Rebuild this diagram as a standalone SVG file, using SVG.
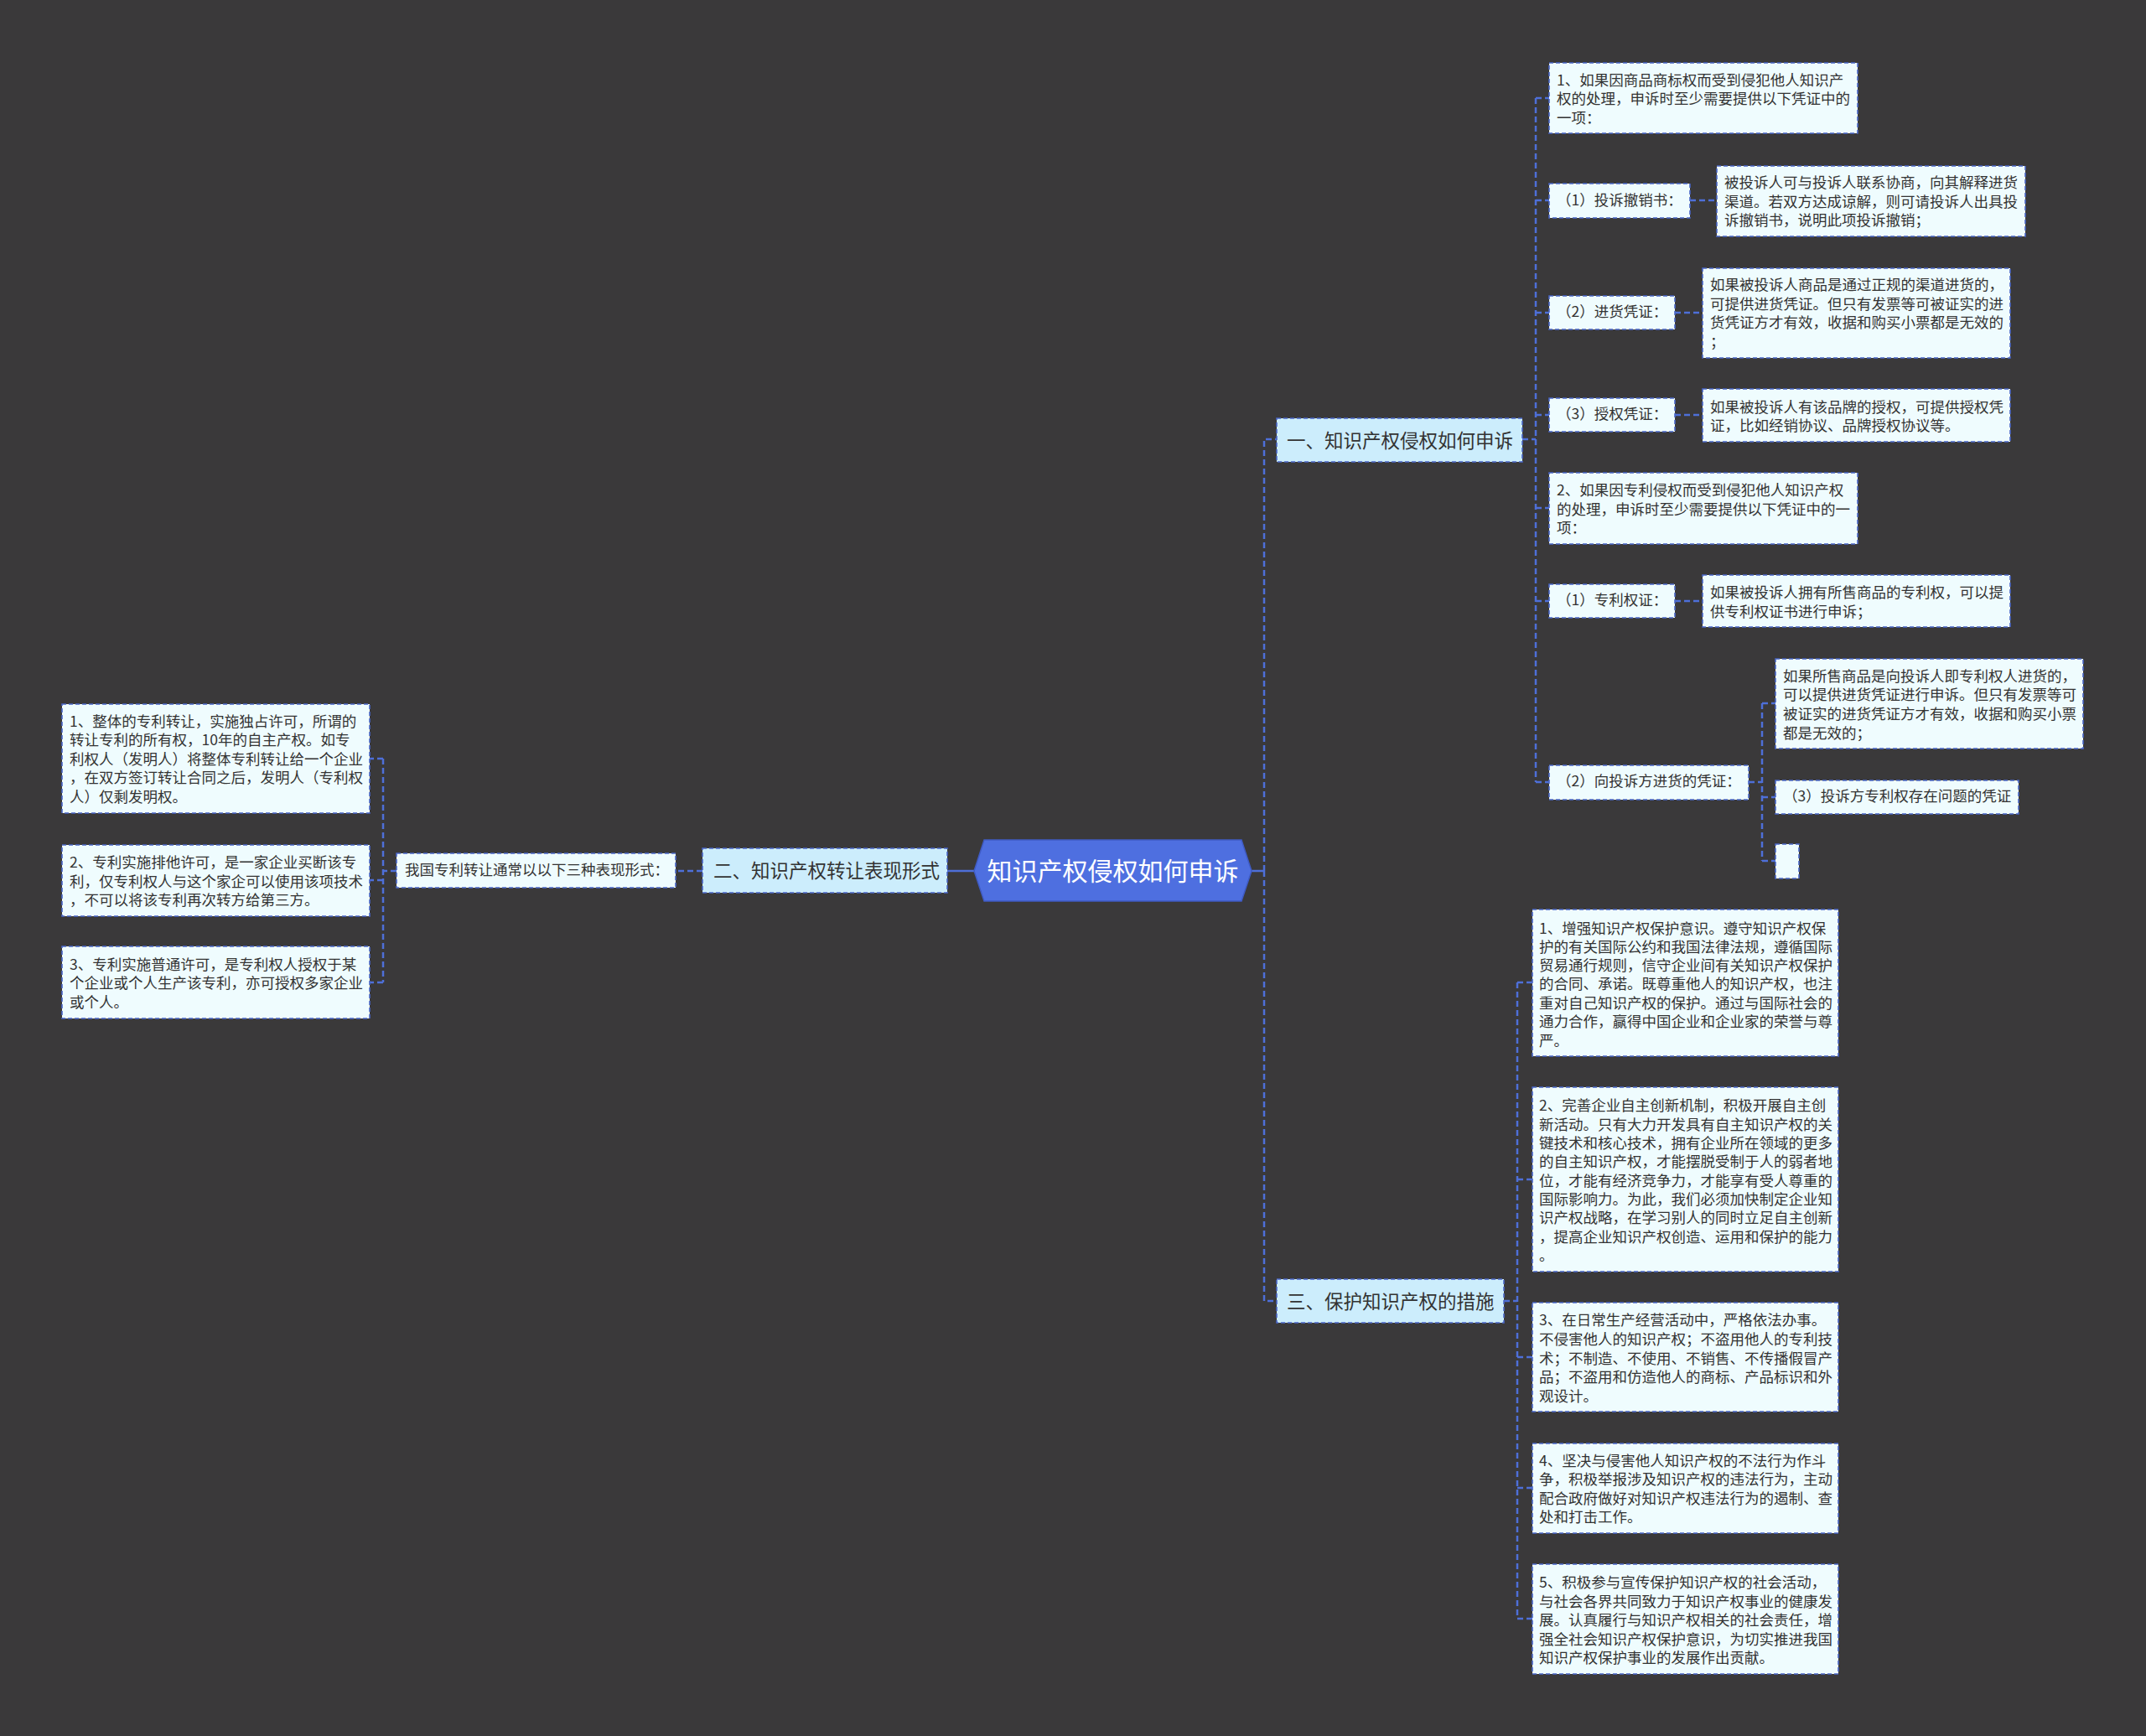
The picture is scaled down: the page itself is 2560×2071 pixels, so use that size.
<svg xmlns="http://www.w3.org/2000/svg" width="2560" height="2071" viewBox="0 0 2560 2071">
<style>
.bg{fill:#3a393a}
.leaf{fill:#effcfe;stroke:#4a66c6;stroke-width:1.6;stroke-dasharray:5 3}
.ttl{fill:#ccedfc;stroke:#4a66c6;stroke-width:1.6;stroke-dasharray:5 3}
.t{font-family:"Noto Sans CJK SC","Noto Sans",sans-serif;font-size:17.5px;fill:#333333;dominant-baseline:central;transform:translate(0px,-2.5px)}
.tt{font-family:"Noto Sans CJK SC","Noto Sans",sans-serif;font-size:22.5px;fill:#333333;dominant-baseline:central;transform:translate(0px,-1.5px)}
.ct{font-family:"Noto Sans CJK SC","Noto Sans",sans-serif;font-size:30px;fill:#ffffff;dominant-baseline:central;text-anchor:middle;transform:translate(0px,-1.5px)}
.c{fill:none;stroke:#4e6fd8;stroke-width:2.5;stroke-dasharray:7 4}
.cs{fill:none;stroke:#4e6fd8;stroke-width:2.5}
</style>
<rect class="bg" x="0" y="0" width="2560" height="2071"/>

<g id="connectors">
  <path class="cs" d="M1493 1039 H1508"/>
  <path class="c" d="M1508 1039 V524 H1523"/>
  <path class="c" d="M1508 1039 V1552 H1523"/>
  <path class="cs" d="M1162 1039 H1130"/>
  <path class="c" d="M838 1039 H806"/>
  <path class="c" d="M473 1039 H457"/>
  <path class="c" d="M457 905 V1172"/>
  <path class="c" d="M457 905 H441"/>
  <path class="c" d="M457 1050 H441"/>
  <path class="c" d="M457 1172 H441"/>
  <path class="c" d="M1816 524 H1832"/>
  <path class="c" d="M1832 117 V933"/>
  <path class="c" d="M1832 117 H1848"/>
  <path class="c" d="M1832 239 H1848"/>
  <path class="c" d="M1832 373 H1848"/>
  <path class="c" d="M1832 495 H1848"/>
  <path class="c" d="M1832 606 H1848"/>
  <path class="c" d="M1832 717 H1848"/>
  <path class="c" d="M1832 933 H1848"/>
  <path class="c" d="M2016 239 H2048"/>
  <path class="c" d="M1998 373 H2031"/>
  <path class="c" d="M1998 495 H2031"/>
  <path class="c" d="M1998 717 H2031"/>
  <path class="c" d="M2086 933 H2102"/>
  <path class="c" d="M2102 839 V1027"/>
  <path class="c" d="M2102 839 H2118"/>
  <path class="c" d="M2102 951 H2118"/>
  <path class="c" d="M2102 1027 H2118"/>
  <path class="c" d="M1794 1552 H1810"/>
  <path class="c" d="M1810 1172 V1931"/>
  <path class="c" d="M1810 1172 H1828"/>
  <path class="c" d="M1810 1407 H1828"/>
  <path class="c" d="M1810 1619 H1828"/>
  <path class="c" d="M1810 1775 H1828"/>
  <path class="c" d="M1810 1931 H1828"/>
</g>

<g id="root">
  <polygon points="1162,1039 1174,1002 1481,1002 1493,1039 1481,1075 1174,1075" fill="#4e6fe0" stroke="#3f5bc4" stroke-width="1.5"/>
  <text class="ct" x="1327.5" y="1038">知识产权侵权如何申诉</text>
</g>

<g id="b1">
  <rect class="ttl" x="1523" y="499" width="293" height="52"/>
  <text class="tt" x="1535" y="525">一、知识产权侵权如何申诉</text>
</g>
<g id="b2">
  <rect class="ttl" x="838" y="1012" width="292" height="53"/>
  <text class="tt" x="851" y="1038.5">二、知识产权转让表现形式</text>
</g>
<g id="b3">
  <rect class="ttl" x="1523" y="1526" width="271" height="52"/>
  <text class="tt" x="1535" y="1552">三、保护知识产权的措施</text>
</g>

<!-- Branch 1 -->
<g id="n1a">
  <rect class="leaf" x="1848" y="75" width="368" height="84"/>
  <text class="t"><tspan x="1857" y="96">1、如果因商品商标权而受到侵犯他人知识产</tspan><tspan x="1857" y="118">权的处理，申诉时至少需要提供以下凭证中的</tspan><tspan x="1857" y="141">一项：</tspan></text>
</g>
<g id="n1b">
  <rect class="leaf" x="1848" y="219" width="168" height="41"/>
  <text class="t" x="1857" y="239.5">（1）投诉撤销书：</text>
</g>
<g id="n1c">
  <rect class="leaf" x="2048" y="198" width="368" height="84"/>
  <text class="t"><tspan x="2057" y="218">被投诉人可与投诉人联系协商，向其解释进货</tspan><tspan x="2057" y="241">渠道。若双方达成谅解，则可请投诉人出具投</tspan><tspan x="2057" y="263">诉撤销书，说明此项投诉撤销；</tspan></text>
</g>
<g id="n1d">
  <rect class="leaf" x="1848" y="353" width="150" height="40"/>
  <text class="t" x="1857" y="373">（2）进货凭证：</text>
</g>
<g id="n1e">
  <rect class="leaf" x="2031" y="320" width="367" height="107"/>
  <text class="t"><tspan x="2040" y="340">如果被投诉人商品是通过正规的渠道进货的，</tspan><tspan x="2040" y="363">可提供进货凭证。但只有发票等可被证实的进</tspan><tspan x="2040" y="385">货凭证方才有效，收据和购买小票都是无效的</tspan><tspan x="2040" y="408">；</tspan></text>
</g>
<g id="n1f">
  <rect class="leaf" x="1848" y="475" width="150" height="40"/>
  <text class="t" x="1857" y="495">（3）授权凭证：</text>
</g>
<g id="n1g">
  <rect class="leaf" x="2031" y="464" width="367" height="63"/>
  <text class="t"><tspan x="2040" y="486">如果被投诉人有该品牌的授权，可提供授权凭</tspan><tspan x="2040" y="508">证，比如经销协议、品牌授权协议等。</tspan></text>
</g>
<g id="n1h">
  <rect class="leaf" x="1848" y="564" width="368" height="85"/>
  <text class="t"><tspan x="1857" y="585">2、如果因专利侵权而受到侵犯他人知识产权</tspan><tspan x="1857" y="608">的处理，申诉时至少需要提供以下凭证中的一</tspan><tspan x="1857" y="630">项：</tspan></text>
</g>
<g id="n1i">
  <rect class="leaf" x="1848" y="697" width="150" height="40"/>
  <text class="t" x="1857" y="717">（1）专利权证：</text>
</g>
<g id="n1j">
  <rect class="leaf" x="2031" y="686" width="367" height="62"/>
  <text class="t"><tspan x="2040" y="707">如果被投诉人拥有所售商品的专利权，可以提</tspan><tspan x="2040" y="730">供专利权证书进行申诉；</tspan></text>
</g>
<g id="n1k">
  <rect class="leaf" x="1848" y="913" width="238" height="41"/>
  <text class="t" x="1857" y="933">（2）向投诉方进货的凭证：</text>
</g>
<g id="n1l">
  <rect class="leaf" x="2118" y="786" width="367" height="107"/>
  <text class="t"><tspan x="2127" y="807">如果所售商品是向投诉人即专利权人进货的，</tspan><tspan x="2127" y="829">可以提供进货凭证进行申诉。但只有发票等可</tspan><tspan x="2127" y="852">被证实的进货凭证方才有效，收据和购买小票</tspan><tspan x="2127" y="875">都是无效的；</tspan></text>
</g>
<g id="n1m">
  <rect class="leaf" x="2118" y="931" width="290" height="40"/>
  <text class="t" x="2127" y="951">（3）投诉方专利权存在问题的凭证</text>
</g>
<g id="n1n">
  <rect class="leaf" x="2118" y="1007" width="28" height="41"/>
</g>

<!-- Branch 2 -->
<g id="n2a">
  <rect class="leaf" x="473" y="1018" width="333" height="41"/>
  <text class="t" x="483" y="1039">我国专利转让通常以以下三种表现形式：</text>
</g>
<g id="n2b">
  <rect class="leaf" x="74" y="840" width="367" height="130"/>
  <text class="t"><tspan x="83" y="861">1、整体的专利转让，实施独占许可，所谓的</tspan><tspan x="83" y="883">转让专利的所有权，10年的自主产权。如专</tspan><tspan x="83" y="906">利权人（发明人）将整体专利转让给一个企业</tspan><tspan x="83" y="928">，在双方签订转让合同之后，发明人（专利权</tspan><tspan x="83" y="951">人）仅剩发明权。</tspan></text>
</g>
<g id="n2c">
  <rect class="leaf" x="74" y="1008" width="367" height="85"/>
  <text class="t"><tspan x="83" y="1029">2、专利实施排他许可，是一家企业买断该专</tspan><tspan x="83" y="1052">利，仅专利权人与这个家企可以使用该项技术</tspan><tspan x="83" y="1074">，不可以将该专利再次转方给第三方。</tspan></text>
</g>
<g id="n2d">
  <rect class="leaf" x="74" y="1129" width="367" height="86"/>
  <text class="t"><tspan x="83" y="1151">3、专利实施普通许可，是专利权人授权于某</tspan><tspan x="83" y="1173">个企业或个人生产该专利，亦可授权多家企业</tspan><tspan x="83" y="1196">或个人。</tspan></text>
</g>

<!-- Branch 3 -->
<g id="n3a">
  <rect class="leaf" x="1828" y="1085" width="365" height="175"/>
  <text class="t"><tspan x="1836" y="1108">1、增强知识产权保护意识。遵守知识产权保</tspan><tspan x="1836" y="1130">护的有关国际公约和我国法律法规，遵循国际</tspan><tspan x="1836" y="1152">贸易通行规则，信守企业间有关知识产权保护</tspan><tspan x="1836" y="1174">的合同、承诺。既尊重他人的知识产权，也注</tspan><tspan x="1836" y="1197">重对自己知识产权的保护。通过与国际社会的</tspan><tspan x="1836" y="1219">通力合作，赢得中国企业和企业家的荣誉与尊</tspan><tspan x="1836" y="1242">严。</tspan></text>
</g>
<g id="n3b">
  <rect class="leaf" x="1828" y="1297" width="365" height="220"/>
  <text class="t"><tspan x="1836" y="1319">2、完善企业自主创新机制，积极开展自主创</tspan><tspan x="1836" y="1342">新活动。只有大力开发具有自主知识产权的关</tspan><tspan x="1836" y="1364">键技术和核心技术，拥有企业所在领域的更多</tspan><tspan x="1836" y="1386">的自主知识产权，才能摆脱受制于人的弱者地</tspan><tspan x="1836" y="1409">位，才能有经济竞争力，才能享有受人尊重的</tspan><tspan x="1836" y="1431">国际影响力。为此，我们必须加快制定企业知</tspan><tspan x="1836" y="1453">识产权战略，在学习别人的同时立足自主创新</tspan><tspan x="1836" y="1476">，提高企业知识产权创造、运用和保护的能力</tspan><tspan x="1836" y="1498">。</tspan></text>
</g>
<g id="n3c">
  <rect class="leaf" x="1828" y="1554" width="365" height="130"/>
  <text class="t"><tspan x="1836" y="1575">3、在日常生产经营活动中，严格依法办事。</tspan><tspan x="1836" y="1598">不侵害他人的知识产权；不盗用他人的专利技</tspan><tspan x="1836" y="1621">术；不制造、不使用、不销售、不传播假冒产</tspan><tspan x="1836" y="1643">品；不盗用和仿造他人的商标、产品标识和外</tspan><tspan x="1836" y="1666">观设计。</tspan></text>
</g>
<g id="n3d">
  <rect class="leaf" x="1828" y="1722" width="365" height="107"/>
  <text class="t"><tspan x="1836" y="1743">4、坚决与侵害他人知识产权的不法行为作斗</tspan><tspan x="1836" y="1765">争，积极举报涉及知识产权的违法行为，主动</tspan><tspan x="1836" y="1788">配合政府做好对知识产权违法行为的遏制、查</tspan><tspan x="1836" y="1810">处和打击工作。</tspan></text>
</g>
<g id="n3e">
  <rect class="leaf" x="1828" y="1866" width="365" height="131"/>
  <text class="t"><tspan x="1836" y="1888">5、积极参与宣传保护知识产权的社会活动，</tspan><tspan x="1836" y="1911">与社会各界共同致力于知识产权事业的健康发</tspan><tspan x="1836" y="1933">展。认真履行与知识产权相关的社会责任，增</tspan><tspan x="1836" y="1956">强全社会知识产权保护意识，为切实推进我国</tspan><tspan x="1836" y="1978">知识产权保护事业的发展作出贡献。</tspan></text>
</g>
</svg>
